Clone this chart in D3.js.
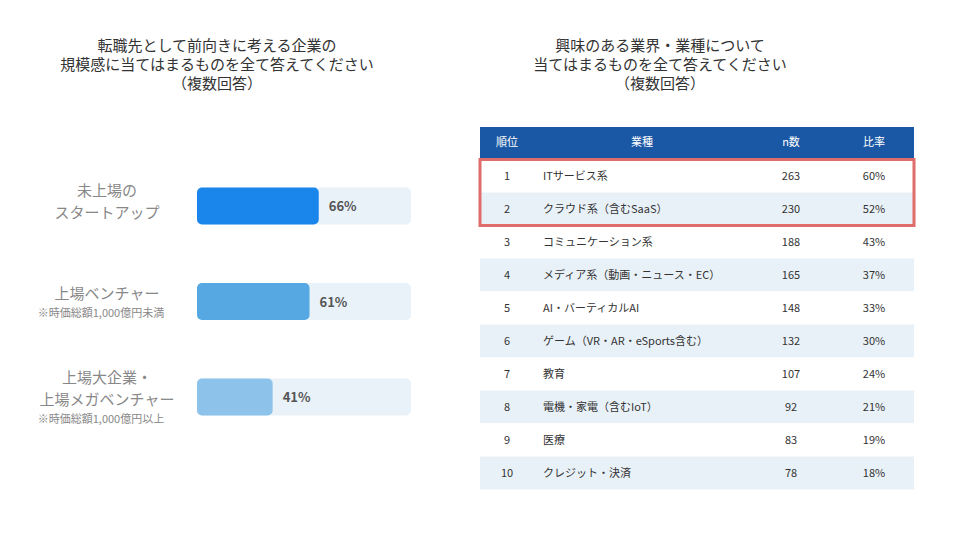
<!DOCTYPE html>
<html>
<head>
<meta charset="utf-8">
<script src="https://cdn.jsdelivr.net/npm/d3@7"></script>
<style>
  body { margin: 0; background: #fff; }
  svg { font-family: "Noto Sans CJK JP", "Noto Sans", sans-serif; }
</style>
</head>
<body>
<svg width="960" height="540"></svg>
<script>
// left chart data
const sizeLabels = [
	['未上場の', 'スタートアップ'],
	['上場ベンチャー'],
	['上場大企業・', '上場メガベンチャー']
];
const sizeNotes = ['', '※時価総額1,000億円未満', '※時価総額1,000億円以上'];
const sizeValues = [66, 61, 41];
const sizeColors = ['#1a86ec', '#55a8e2', '#8dc3ea'];

// right table data
const ranks = [1, 2, 3, 4, 5, 6, 7, 8, 9, 10];
const industries = ['ITサービス系', 'クラウド系（含むSaaS）', 'コミュニケーション系', 'メディア系（動画・ニュース・EC）',
	'AI・バーティカルAI', 'ゲーム（VR・AR・eSports含む）', '教育', '電機・家電（含むIoT）', '医療', 'クレジット・決済'];
const counts = [263, 230, 188, 165, 148, 132, 107, 92, 83, 78];
const ratios = [60, 52, 43, 37, 33, 30, 24, 21, 19, 18];
const headers = ['順位', '業種', 'n数', '比率'];

const svg = d3.select('svg');

// titles
const titles = [
	{ x: 217, lines: ['転職先として前向きに考える企業の', '規模感に当てはまるものを全て答えてください', '（複数回答）'] },
	{ x: 660, lines: ['興味のある業界・業種について', '当てはまるものを全て答えてください', '（複数回答）'] }
];
titles.forEach(t => {
	svg.append('text')
		.attr('x', t.x)
		.attr('y', 51)
		.attr('text-anchor', 'middle')
		.attr('font-size', 15)
		.attr('fill', '#333')
		.selectAll('tspan')
		.data(t.lines)
		.join('tspan')
		.attr('x', t.x)
		.attr('dy', (d, i) => i ? 19 : 0)
		.text(d => d);
});

// ---- left bars ----
const y = d3.scalePoint()
	.domain(d3.range(sizeValues.length))
	.range([206, 397]);

const x = d3.scaleLinear().domain([0, 116]).range([0, 214]);
const trackX = 197;
const bh = 37;

const rows = svg.append('g').selectAll('g')
	.data(sizeValues)
	.join('g')
	.attr('transform', (d, i) => `translate(0,${y(i) - bh / 2})`);

rows.append('rect')
	.attr('x', trackX)
	.attr('width', x(116))
	.attr('height', bh)
	.attr('rx', 5)
	.attr('fill', '#e9f2f8');

rows.append('rect')
	.attr('x', trackX)
	.attr('width', d => x(d))
	.attr('height', bh)
	.attr('rx', 5)
	.attr('fill', (d, i) => sizeColors[i]);

rows.append('text')
	.attr('x', d => trackX + x(d) + 10)
	.attr('y', bh / 2 + 5)
	.attr('font-size', 13)
	.attr('font-weight', 'bold')
	.attr('fill', '#555')
	.text(d => d + '%');

rows.each(function (d, i) {
	const g = d3.select(this);
	const lines = sizeLabels[i];
	const hasNote = sizeNotes[i] !== '';
	const total = lines.length * 22 + (hasNote ? 16 : 0);
	const top = bh / 2 - total / 2 - (hasNote ? 0 : 4);
	lines.forEach((l, j) => {
		g.append('text')
			.attr('x', 107)
			.attr('y', top + j * 22 + 16)
			.attr('text-anchor', 'middle')
			.attr('font-size', 15)
			.attr('fill', '#888')
			.text(l);
	});
	if (hasNote) {
		g.append('text')
			.attr('x', 101)
			.attr('y', top + lines.length * 22 + 12)
			.attr('text-anchor', 'middle')
			.attr('font-size', 11)
			.attr('fill', '#888')
			.text(sizeNotes[i]);
	}
});

// ---- right table ----
const tx0 = 480, tx1 = 914;
const cols = [
	{ x: 507, anchor: 'middle' },
	{ x: 543, anchor: 'start', hx: 642 },
	{ x: 791, anchor: 'middle' },
	{ x: 874, anchor: 'middle' }
];

svg.append('rect')
	.attr('x', tx0).attr('y', 127)
	.attr('width', tx1 - tx0).attr('height', 31)
	.attr('fill', '#1a57a4');

svg.append('g').selectAll('text')
	.data(headers)
	.join('text')
	.attr('x', (d, i) => cols[i].hx || cols[i].x)
	.attr('y', 146)
	.attr('text-anchor', 'middle')
	.attr('font-size', 11)
	.attr('fill', '#fff')
	.text(d => d);

const ry = d3.scaleBand()
	.domain(ranks)
	.range([159.5, 159.5 + 33 * ranks.length]);

const trows = svg.append('g').selectAll('g')
	.data(ranks)
	.join('g')
	.attr('transform', d => `translate(0,${ry(d)})`);

trows.append('rect')
	.attr('x', tx0)
	.attr('width', tx1 - tx0)
	.attr('height', ry.bandwidth())
	.attr('fill', (d, i) => i % 2 ? '#e9f1f8' : '#fff');

trows.each(function (d, i) {
	const cells = [ranks[i], industries[i], counts[i], ratios[i] + '%'];
	d3.select(this).selectAll('text')
		.data(cells)
		.join('text')
		.attr('x', (c, j) => cols[j].x)
		.attr('y', ry.bandwidth() / 2 + 4)
		.attr('text-anchor', (c, j) => cols[j].anchor)
		.attr('font-size', 11)
		.attr('fill', '#333')
		.text(c => c);
});

// highlight top 2
svg.append('rect')
	.attr('x', tx0)
	.attr('y', ry(1))
	.attr('width', tx1 - tx0)
	.attr('height', ry.bandwidth() * 2)
	.attr('fill', 'none')
	.attr('stroke', '#e06c6c')
	.attr('stroke-width', 3);
</script>
</body>
</html>
